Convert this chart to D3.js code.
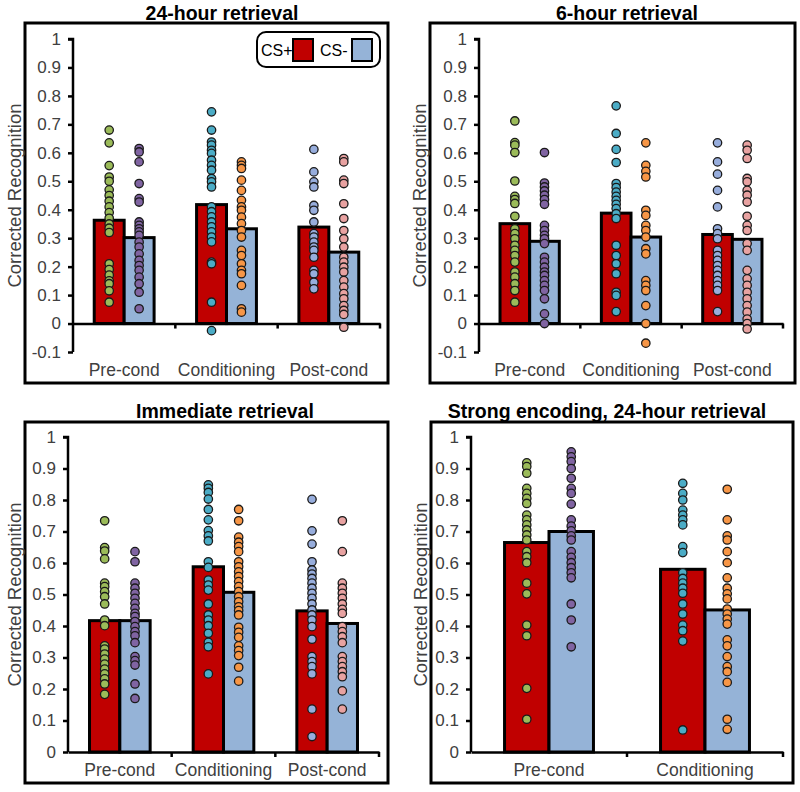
<!DOCTYPE html>
<html>
<head>
<meta charset="utf-8">
<script src="https://cdn.jsdelivr.net/npm/d3@7"></script>
<style>
  html, body { margin: 0; padding: 0; background: #fff; }
  svg { display: block; }
  text { font-family: "Liberation Sans", Arial, sans-serif; }
</style>
</head>
<body>
<svg id="chart" width="800" height="792"></svg>
<script>
// ---------------- DATA ----------------
const categories3 = ["Pre-cond", "Conditioning", "Post-cond"];
const categories2 = ["Pre-cond", "Conditioning"];
const seriesNames = ["CS+", "CS-"];
const panelTitles = ["24-hour retrieval", "6-hour retrieval", "Immediate retrieval", "Strong encoding, 24-hour retrieval"];
const yTicksNeg = [-0.1, 0, 0.1, 0.2, 0.3, 0.4, 0.5, 0.6, 0.7, 0.8, 0.9, 1];
const yTicksPos = [0, 0.1, 0.2, 0.3, 0.4, 0.5, 0.6, 0.7, 0.8, 0.9, 1];

// Panel A: 24-hour retrieval
const r24_csPlusMean = [0.363, 0.418, 0.339];
const r24_csMinusMean = [0.302, 0.333, 0.251];
const r24_pre_csPlus = [0.68, 0.635, 0.555, 0.515, 0.50, 0.47, 0.45, 0.43, 0.41, 0.39, 0.37, 0.35, 0.335, 0.32, 0.21, 0.19, 0.17, 0.15, 0.14, 0.115, 0.075];
const r24_pre_csMinus = [0.615, 0.603, 0.568, 0.492, 0.439, 0.427, 0.357, 0.345, 0.333, 0.322, 0.31, 0.286, 0.269, 0.245, 0.222, 0.204, 0.187, 0.163, 0.14, 0.11, 0.052];
const r24_cond_csPlus = [0.744, 0.68, 0.638, 0.627, 0.609, 0.598, 0.574, 0.556, 0.539, 0.51, 0.498, 0.48, 0.41, 0.393, 0.375, 0.357, 0.34, 0.322, 0.304, 0.287, 0.216, 0.21, 0.075, -0.025];
const r24_cond_csMinus = [0.568, 0.556, 0.545, 0.504, 0.468, 0.433, 0.41, 0.398, 0.374, 0.351, 0.327, 0.304, 0.257, 0.239, 0.21, 0.187, 0.175, 0.134, 0.052, 0.04];
const r24_post_csPlus = [0.612, 0.533, 0.498, 0.48, 0.415, 0.398, 0.357, 0.316, 0.304, 0.286, 0.269, 0.257, 0.233, 0.187, 0.175, 0.145, 0.122];
const r24_post_csMinus = [0.58, 0.568, 0.504, 0.492, 0.421, 0.369, 0.327, 0.298, 0.269, 0.233, 0.216, 0.198, 0.181, 0.151, 0.128, 0.105, 0.087, 0.063, 0.046, 0.032, -0.013];

// Panel B: 6-hour retrieval
const r6_csPlusMean = [0.351, 0.388, 0.313];
const r6_csMinusMean = [0.289, 0.304, 0.296];
const r6_pre_csPlus = [0.712, 0.636, 0.627, 0.601, 0.501, 0.447, 0.436, 0.422, 0.377, 0.333, 0.316, 0.298, 0.275, 0.257, 0.239, 0.216, 0.181, 0.163, 0.14, 0.116, 0.075];
const r6_pre_csMinus = [0.601, 0.494, 0.48, 0.466, 0.451, 0.436, 0.419, 0.345, 0.327, 0.31, 0.298, 0.281, 0.233, 0.216, 0.198, 0.181, 0.169, 0.151, 0.134, 0.116, 0.087, 0.034, 0.0];
const r6_cond_csPlus = [0.765, 0.668, 0.612, 0.566, 0.492, 0.478, 0.462, 0.447, 0.433, 0.419, 0.404, 0.386, 0.369, 0.275, 0.239, 0.21, 0.175, 0.11, 0.099, 0.042];
const r6_cond_csMinus = [0.635, 0.556, 0.535, 0.515, 0.398, 0.38, 0.345, 0.327, 0.304, 0.263, 0.245, 0.151, 0.134, 0.116, 0.063, 0.0, -0.069];
const r6_post_csPlus = [0.635, 0.568, 0.525, 0.468, 0.41, 0.333, 0.316, 0.298, 0.257, 0.239, 0.222, 0.204, 0.187, 0.169, 0.151, 0.134, 0.116, 0.042];
const r6_post_csMinus = [0.627, 0.609, 0.58, 0.51, 0.498, 0.468, 0.451, 0.427, 0.377, 0.345, 0.327, 0.281, 0.257, 0.187, 0.157, 0.134, 0.11, 0.087, 0.063, 0.04, 0.016, 0.0, -0.019];

// Panel C: Immediate retrieval
const rImm_csPlusMean = [0.417, 0.588, 0.448];
const rImm_csMinusMean = [0.417, 0.507, 0.408];
const rImm_pre_csPlus = [0.734, 0.649, 0.638, 0.613, 0.536, 0.525, 0.509, 0.493, 0.47, 0.419, 0.401, 0.337, 0.327, 0.311, 0.295, 0.279, 0.263, 0.248, 0.232, 0.216, 0.183];
const rImm_pre_csMinus = [0.636, 0.604, 0.536, 0.52, 0.504, 0.488, 0.472, 0.456, 0.44, 0.43, 0.414, 0.398, 0.382, 0.369, 0.347, 0.303, 0.29, 0.276, 0.216, 0.17];
const rImm_cond_csPlus = [0.848, 0.837, 0.824, 0.803, 0.77, 0.737, 0.703, 0.686, 0.67, 0.604, 0.586, 0.546, 0.53, 0.514, 0.47, 0.435, 0.419, 0.401, 0.377, 0.348, 0.334, 0.248];
const rImm_cond_csMinus = [0.77, 0.734, 0.682, 0.666, 0.652, 0.636, 0.604, 0.588, 0.572, 0.557, 0.541, 0.525, 0.509, 0.493, 0.477, 0.461, 0.449, 0.435, 0.396, 0.38, 0.364, 0.337, 0.322, 0.306, 0.269, 0.225];
const rImm_post_csPlus = [0.802, 0.702, 0.66, 0.604, 0.578, 0.565, 0.551, 0.536, 0.52, 0.504, 0.488, 0.47, 0.451, 0.435, 0.419, 0.398, 0.358, 0.303, 0.287, 0.271, 0.248, 0.136, 0.049];
const rImm_post_csMinus = [0.734, 0.636, 0.536, 0.52, 0.504, 0.488, 0.47, 0.453, 0.44, 0.398, 0.382, 0.366, 0.347, 0.303, 0.287, 0.271, 0.255, 0.239, 0.194, 0.136];

// Panel D: Strong encoding, 24-hour retrieval
const rStr_csPlusMean = [0.665, 0.58];
const rStr_csMinusMean = [0.70, 0.451];
const rStr_pre_csPlus = [0.918, 0.906, 0.885, 0.837, 0.821, 0.805, 0.789, 0.752, 0.737, 0.721, 0.705, 0.689, 0.673, 0.636, 0.62, 0.601, 0.536, 0.502, 0.403, 0.369, 0.202, 0.104];
const rStr_pre_csMinus = [0.953, 0.937, 0.922, 0.9, 0.869, 0.837, 0.821, 0.787, 0.737, 0.717, 0.702, 0.686, 0.673, 0.636, 0.618, 0.601, 0.585, 0.569, 0.553, 0.47, 0.419, 0.334];
const rStr_cond_csPlus = [0.853, 0.821, 0.8, 0.768, 0.752, 0.737, 0.721, 0.652, 0.633, 0.569, 0.551, 0.536, 0.52, 0.504, 0.47, 0.438, 0.403, 0.385, 0.352, 0.07];
const rStr_cond_csMinus = [0.834, 0.737, 0.686, 0.673, 0.636, 0.601, 0.553, 0.52, 0.502, 0.486, 0.454, 0.438, 0.422, 0.406, 0.356, 0.337, 0.303, 0.271, 0.255, 0.221, 0.104, 0.072];

// ---------------- STYLE ----------------
const barColors = { "CS+": "#C00000", "CS-": "#95B3D7" };
const dotColors = [
  ["#9BBB59", "#8064A2"],   // Pre-cond CS+, CS-
  ["#4BACC6", "#F79646"],   // Conditioning
  ["#97ADDC", "#E8A2A1"]    // Post-cond
];

// ---------------- PANELS ----------------
const panels = [
  { title: panelTitles[0], cats: categories3, plus: r24_csPlusMean, minus: r24_csMinusMean,
    dots: [[r24_pre_csPlus, r24_pre_csMinus], [r24_cond_csPlus, r24_cond_csMinus], [r24_post_csPlus, r24_post_csMinus]],
    yDomain: [-0.1, 1], ticks: yTicksNeg,
    frame: [25, 23, 388, 383], x0: 73, x1: 380, yTop: 39, yBot: 352, titleX: 222, titleY: 20, legend: true, labelY: 376 },
  { title: panelTitles[1], cats: categories3, plus: r6_csPlusMean, minus: r6_csMinusMean,
    dots: [[r6_pre_csPlus, r6_pre_csMinus], [r6_cond_csPlus, r6_cond_csMinus], [r6_post_csPlus, r6_post_csMinus]],
    yDomain: [-0.1, 1], ticks: yTicksNeg,
    frame: [430, 23, 795, 383], x0: 479, x1: 783, yTop: 39, yBot: 352, titleX: 627, titleY: 20, legend: false, labelY: 376 },
  { title: panelTitles[2], cats: categories3, plus: rImm_csPlusMean, minus: rImm_csMinusMean,
    dots: [[rImm_pre_csPlus, rImm_pre_csMinus], [rImm_cond_csPlus, rImm_cond_csMinus], [rImm_post_csPlus, rImm_post_csMinus]],
    yDomain: [0, 1], ticks: yTicksPos,
    frame: [25, 422, 388, 783], x0: 68, x1: 379, yTop: 437, yBot: 752, titleX: 225, titleY: 418, legend: false, labelY: 776 },
  { title: panelTitles[3], cats: categories2, plus: rStr_csPlusMean, minus: rStr_csMinusMean,
    dots: [[rStr_pre_csPlus, rStr_pre_csMinus], [rStr_cond_csPlus, rStr_cond_csMinus]],
    yDomain: [0, 1], ticks: yTicksPos,
    frame: [431, 422, 793, 783], x0: 471, x1: 783, yTop: 437, yBot: 752, titleX: 607, titleY: 418, legend: false, labelY: 776 }
];

const svg = d3.select("#chart");

panels.forEach((p, pi) => {
  const g = svg.append("g");
  const [fx0, fy0, fx1, fy1] = p.frame;

  // frame
  g.append("rect").attr("x", fx0).attr("y", fy0).attr("width", fx1 - fx0).attr("height", fy1 - fy0)
    .attr("fill", "none").attr("stroke", "#000").attr("stroke-width", 3);

  // title
  g.append("text").attr("x", p.titleX).attr("y", p.titleY).attr("text-anchor", "middle")
    .attr("font-size", 19.5).attr("font-weight", "bold").attr("fill", "#000").text(p.title);

  const y = d3.scaleLinear().domain(p.yDomain).range([p.yBot, p.yTop]);
  const x = d3.scaleBand().domain(p.cats).range([p.x0, p.x1]).paddingInner(0).paddingOuter(0);
  const pairFrac = p.cats.length === 2 ? 0.57 : 0.585;
  const sub = d3.scaleBand().domain(seriesNames)
    .range([x.bandwidth() * (1 - pairFrac) / 2, x.bandwidth() * (1 + pairFrac) / 2]).padding(0);

  const barData = [];
  p.cats.forEach((c, i) => {
    barData.push({ cat: c, s: "CS+", v: p.plus[i], ci: i, si: 0 });
    barData.push({ cat: c, s: "CS-", v: p.minus[i], ci: i, si: 1 });
  });

  // bars
  g.selectAll("rect.bar").data(barData).join("rect").attr("class", "bar")
    .attr("x", d => x(d.cat) + sub(d.s))
    .attr("width", sub.bandwidth())
    .attr("y", d => y(d.v))
    .attr("height", d => y(0) - y(d.v))
    .attr("fill", d => barColors[d.s])
    .attr("stroke", "#000").attr("stroke-width", 3);

  // y axis
  const yAxis = d3.axisLeft(y).tickValues(p.ticks).tickFormat(d => String(+d.toFixed(1))).tickSize(5).tickPadding(7);
  const ya = g.append("g").attr("transform", `translate(${p.x0},0)`).call(yAxis);
  ya.select(".domain").attr("stroke", "#000").attr("stroke-width", 2.5).attr("d", `M-5,${y(p.yDomain[1])}H0V${y(p.yDomain[0])}`);
  ya.selectAll(".tick line").attr("stroke", "#000").attr("stroke-width", 2.5);
  ya.selectAll(".tick text").attr("font-size", 17).attr("fill", "#404040")
    .attr("font-family", "'Liberation Sans', Arial, sans-serif");

  // x axis at y=0
  const xAxis = d3.axisBottom(x).tickValues([]).tickSizeOuter(0);
  const xa = g.append("g").attr("transform", `translate(0,${y(0)})`).call(xAxis);
  xa.select(".domain").attr("stroke", "#000").attr("stroke-width", 2.5);
  // boundary tick marks between categories
  const bounds = p.cats.slice(1).map(c => x(c)).concat([p.x1]);
  xa.selectAll("line.bt").data(bounds).join("line").attr("class", "bt")
    .attr("x1", d => d).attr("x2", d => d).attr("y1", 0).attr("y2", 5)
    .attr("stroke", "#000").attr("stroke-width", 2.5);

  // category labels
  g.selectAll("text.cat").data(p.cats).join("text").attr("class", "cat")
    .attr("x", d => x(d) + x.bandwidth() / 2).attr("y", p.labelY)
    .attr("text-anchor", "middle").attr("font-size", 17.5).attr("fill", "#404040").text(d => d);

  // y label
  const yMid = (p.yTop + p.yBot) / 2;
  g.append("text").attr("transform", `translate(${fx0 - 4},${yMid}) rotate(-90)`)
    .attr("text-anchor", "middle").attr("font-size", 18.5).attr("fill", "#404040")
    .text("Corrected Recognition");

  // dots
  const dotData = [];
  p.dots.forEach((pair, ci) => {
    pair.forEach((arr, si) => {
      arr.forEach(v => dotData.push({ cat: p.cats[ci], s: seriesNames[si], v, color: dotColors[ci][si] }));
    });
  });
  g.selectAll("circle.dot").data(dotData).join("circle").attr("class", "dot")
    .attr("cx", d => x(d.cat) + sub(d.s) + sub.bandwidth() / 2)
    .attr("cy", d => y(d.v))
    .attr("r", 4.2)
    .attr("fill", d => d.color)
    .attr("stroke", "#1a1a1a").attr("stroke-width", 1.3);

  // legend
  if (p.legend) {
    const lg = g.append("g");
    lg.append("rect").attr("x", 257).attr("y", 32).attr("width", 123).attr("height", 35).attr("rx", 9)
      .attr("fill", "#fff").attr("stroke", "#000").attr("stroke-width", 2);
    seriesNames.forEach((s, i) => {
      const bx = 260 + i * 59;
      lg.append("text").attr("x", bx + 1).attr("y", 56).attr("font-size", 16).attr("fill", "#000")
        .attr("font-family", "'Open Sans', sans-serif").text(s);
      lg.append("rect").attr("x", bx + 33).attr("y", 39).attr("width", 20).attr("height", 22)
        .attr("fill", barColors[s]).attr("stroke", "#000").attr("stroke-width", 2);
    });
  }
});
</script>
</body>
</html>
